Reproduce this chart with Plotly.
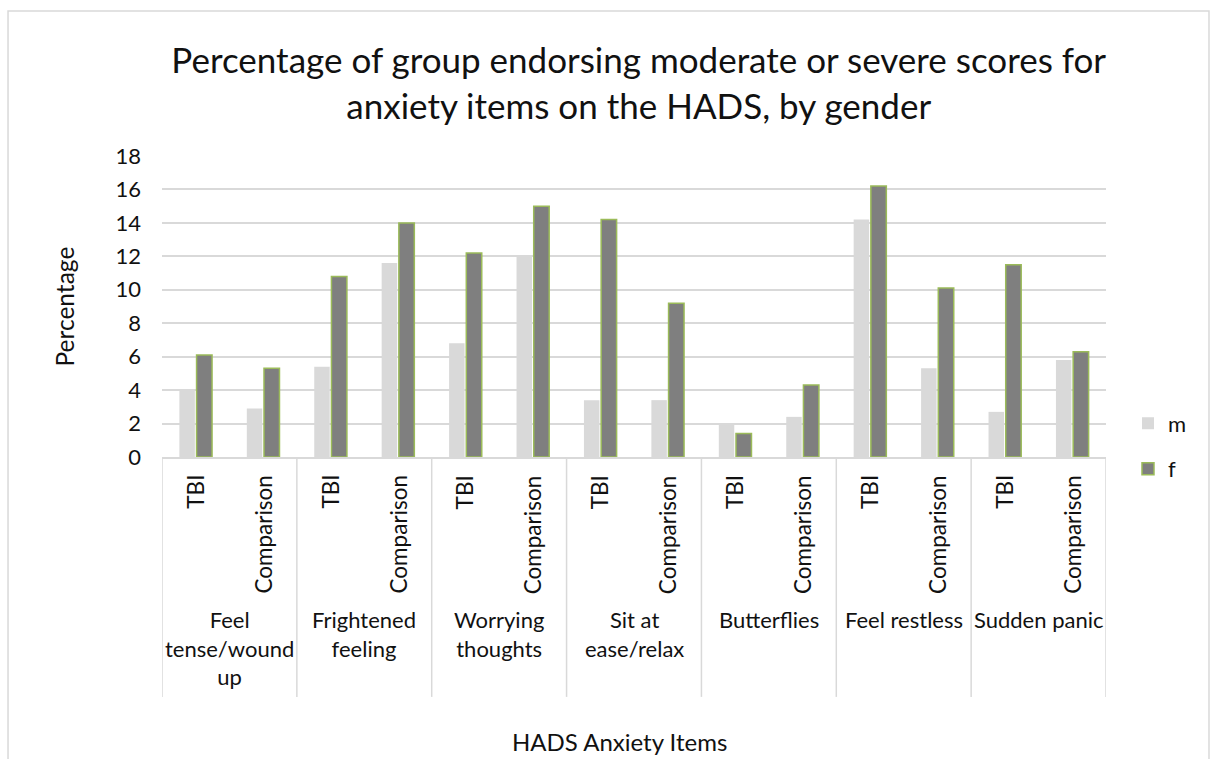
import plotly.graph_objects as go

# HADS anxiety items and the two groups shown under each item
items = ["Feel tense/wound up", "Frightened feeling", "Worrying thoughts",
         "Sit at ease/relax", "Butterflies", "Feel restless", "Sudden panic"]
item_labels = ["Feel<br>tense/wound<br>up", "Frightened<br>feeling", "Worrying<br>thoughts",
               "Sit at<br>ease/relax", "Butterflies", "Feel restless", "Sudden panic"]
groups = ["TBI", "Comparison"]

# Percentage endorsing moderate/severe scores, in item/group order
m_values = [4.0, 2.9, 5.4, 11.6, 6.8, 12.0, 3.4, 3.4, 2.0, 2.4, 14.2, 5.3, 2.7, 5.8]
f_values = [6.1, 5.3, 10.8, 14.0, 12.2, 15.0, 14.2, 9.2, 1.4, 4.3, 16.2, 10.1, 11.5, 6.3]

y_ticks = list(range(0, 19, 2))

FONT = "Lato"
TXT = "#111111"
GRID = "#d9d9d9"

n_groups = len(groups)
positions = list(range(len(items) * n_groups))

fig = go.Figure()
fig.add_trace(go.Bar(
    x=positions, y=m_values, name="m", legendgroup="m",
    marker=dict(color="#d9d9d9", line=dict(width=0)),
))
fig.add_trace(go.Bar(
    x=positions, y=f_values, name="f", legendgroup="f",
    marker=dict(color="#7f7f7f", line=dict(color="#9bbb59", width=1.5)),
))

annotations = []
# inner (group) labels, rotated
for i in positions:
    annotations.append(dict(
        x=i, xref="x", y=-0.053, yref="paper", text=groups[i % n_groups],
        textangle=-90, xanchor="center", yanchor="top", showarrow=False,
        font=dict(family=FONT, size=22.5, color=TXT),
    ))
# outer (item) labels
for g, lab in enumerate(item_labels):
    annotations.append(dict(
        x=g * n_groups + (n_groups - 1) / 2, xref="x", y=-0.49, yref="paper",
        text=lab, xanchor="center", yanchor="top", showarrow=False,
        font=dict(family=FONT, size=22, color=TXT),
    ))
# axis titles
annotations.append(dict(
    x=0.485, xref="paper", y=-0.945, yref="paper", text="HADS Anxiety Items",
    xanchor="center", yanchor="middle", showarrow=False,
    font=dict(family=FONT, size=24, color=TXT),
))
annotations.append(dict(
    x=-0.1028, xref="paper", y=0.5, yref="paper", text="Percentage",
    textangle=-90, xanchor="center", yanchor="middle", showarrow=False,
    font=dict(family=FONT, size=24.5, color=TXT),
))

shapes = []
# chart border
shapes.append(dict(type="rect", xref="paper", yref="paper",
                   x0=-0.1631, x1=1.1091, y0=-1.05, y1=1.4817,
                   line=dict(color=GRID, width=1.5), fillcolor="rgba(0,0,0,0)", layer="below"))
# group dividers of the category axis
for g in range(len(items) + 1):
    shapes.append(dict(type="line", xref="x", yref="paper",
                       x0=g * n_groups - 0.5, x1=g * n_groups - 0.5, y0=0, y1=-0.797,
                       line=dict(color=GRID, width=1.5)))

fig.update_layout(
    width=1216, height=759,
    margin=dict(l=162, r=110, t=156, b=302),
    paper_bgcolor="white", plot_bgcolor="white",
    font=dict(family=FONT, size=22, color=TXT),
    title=dict(
        text="Percentage of group endorsing moderate or severe scores for<br>anxiety items on the HADS, by gender",
        x=0.505, xref="paper", xanchor="center",
        y=1 - 73 / 759, yref="container", yanchor="middle",
        font=dict(family=FONT, size=35, color=TXT),
    ),
    barmode="group", bargap=0.49, bargroupgap=0.1,
    xaxis=dict(range=[-0.5, len(positions) - 0.5], showticklabels=False,
               showgrid=False, zeroline=False, showline=True, linecolor=GRID, linewidth=1.5,
               ticks=""),
    yaxis=dict(range=[0, 18], tickvals=y_ticks, showgrid=True, gridcolor=GRID, gridwidth=1.5,
               zeroline=False, showline=False, ticks="", ticklabelstandoff=20,
               tickfont=dict(family=FONT, size=22, color=TXT)),
    legend=dict(x=1.0233, y=0.035, xanchor="left", yanchor="middle",
                traceorder="grouped", tracegroupgap=14,
                font=dict(family=FONT, size=22, color=TXT), itemwidth=30),
    showlegend=True,
    annotations=annotations,
    shapes=shapes,
)

fig.write_html("out.html")
